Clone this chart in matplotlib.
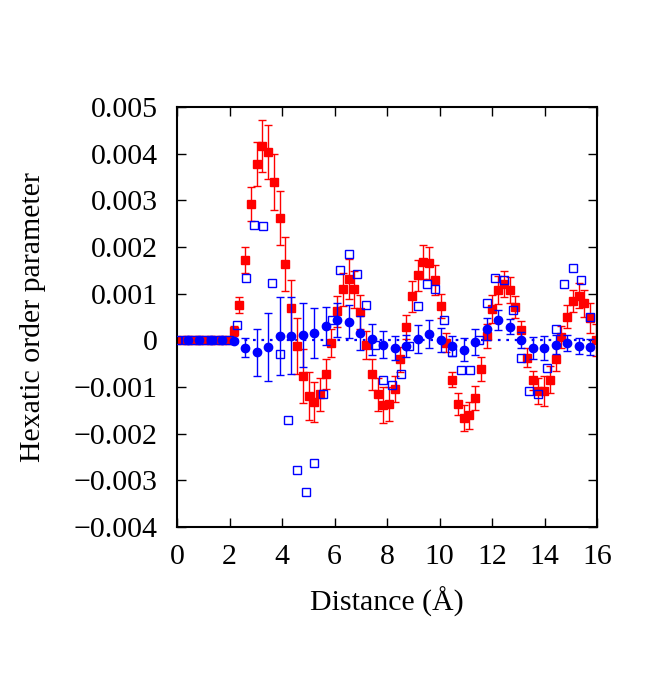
import matplotlib

matplotlib.use("Agg")
import matplotlib.pyplot as plt
from matplotlib.ticker import FuncFormatter

# Filled red squares (with error bars)
red_x = [0.19, 0.41, 0.63, 0.85, 1.06, 1.28, 1.50, 1.72, 1.94,
         2.16, 2.38, 2.60, 2.82, 3.04, 3.25, 3.47, 3.69, 3.91, 4.13,
         4.35, 4.57, 4.79, 5.01, 5.23, 5.45, 5.66, 5.88, 6.10, 6.32,
         6.54, 6.76, 6.98, 7.20, 7.42, 7.64, 7.86, 8.08, 8.29, 8.51,
         8.73, 8.95, 9.17, 9.39, 9.61, 9.83, 10.05, 10.26, 10.48, 10.70,
         10.92, 11.14, 11.36, 11.58, 11.80, 12.01, 12.23, 12.45, 12.67,
         12.89, 13.11, 13.33, 13.55, 13.77, 13.98, 14.20, 14.42, 14.64,
         14.86, 15.08, 15.30, 15.52, 15.73, 15.95]
red_y = [0, 0, 0, 0, 0, 0, 0, 0, 0,
         0.00020, 0.00075, 0.00173, 0.00292, 0.00377, 0.00416, 0.00403,
         0.00339, 0.00262, 0.00163, 0.00070, -0.00013, -0.00077, -0.00119,
         -0.00132, -0.00116, -0.00073, -0.00005, 0.00062, 0.00109, 0.00131,
         0.00109, 0.00061, -0.00009, -0.00073, -0.00116, -0.00138, -0.00137,
         -0.00104, -0.00041, 0.00028, 0.00094, 0.00139, 0.00168, 0.00166,
         0.00130, 0.00073, -0.00005, -0.00084, -0.00137, -0.00166, -0.00161,
         -0.00124, -0.00061, 0.00009, 0.00068, 0.00107, 0.00121, 0.00107,
         0.00071, 0.00023, -0.00037, -0.00086, -0.00108, -0.00109, -0.00084,
         -0.00039, 0.00007, 0.00051, 0.00084, 0.00096, 0.00079, 0.00047,
         0.00000]
red_err = [0, 0, 0, 0, 0, 0, 0, 0, 0,
           0.00010, 0.00017, 0.00028, 0.00037, 0.00047, 0.00056, 0.00058,
           0.00060, 0.00058, 0.00058, 0.00060, 0.00060, 0.00058, 0.00051,
           0.00043, 0.00036, 0.00032, 0.00030, 0.00034, 0.00036, 0.00043,
           0.00039, 0.00036, 0.00030, 0.00034, 0.00036, 0.00039, 0.00036,
           0.00028, 0.00026, 0.00026, 0.00034, 0.00034, 0.00036, 0.00034,
           0.00032, 0.00026, 0.00021, 0.00017, 0.00024, 0.00028, 0.00028,
           0.00026, 0.00026, 0.00026, 0.00030, 0.00030, 0.00028, 0.00028,
           0.00024, 0.00019, 0.00021, 0.00021, 0.00028, 0.00032, 0.00028,
           0.00026, 0.00024, 0.00024, 0.00024, 0.00026, 0.00028, 0.00032,
           0.00034]

# Filled blue circles (with error bars)
blue_x = [0.41, 0.85, 1.28, 1.72, 2.16, 2.60, 3.04, 3.47, 3.91, 4.35,
          4.79, 5.23, 5.66, 6.10, 6.54, 6.98, 7.42, 7.86, 8.29, 8.73,
          9.17, 9.61, 10.05, 10.48, 10.92, 11.36, 11.80, 12.23, 12.67,
          13.11, 13.55, 13.98, 14.42, 14.86, 15.30, 15.73]
blue_y = [0, 0, 0, 0, -0.00002, -0.00016, -0.00026, -0.00014, 0.00009,
          0.00010, 0.00012, 0.00016, 0.00031, 0.00043, 0.00040, 0.00016,
          0.00002, -0.00009, -0.00016, -0.00012, 0.00002, 0.00014, 0.00001,
          -0.00012, -0.00020, -0.00004, 0.00024, 0.00044, 0.00029, 0.00000,
          -0.00016, -0.00016, -0.00009, -0.00006, -0.00012, -0.00014]
blue_err = [0, 0, 0, 0, 0.00004, 0.00020, 0.00051, 0.00073, 0.00083,
            0.00083, 0.00069, 0.00054, 0.00041, 0.00036, 0.00036, 0.00036,
            0.00034, 0.00028, 0.00026, 0.00024, 0.00030, 0.00030, 0.00026,
            0.00021, 0.00024, 0.00028, 0.00024, 0.00021, 0.00016, 0.00017,
            0.00024, 0.00026, 0.00021, 0.00017, 0.00017, 0.00017]

# Open blue squares
open_x = [0.00, 0.33, 0.66, 0.98, 1.31, 1.64, 1.97, 2.29, 2.63, 2.95,
          3.28, 3.61, 3.93, 4.23, 4.58, 4.90, 5.23, 5.57, 5.92, 6.21,
          6.56, 6.86, 7.21, 7.53, 7.85, 8.19, 8.53, 8.85, 9.18, 9.51,
          9.83, 10.17, 10.49, 10.83, 11.15, 11.52, 11.81, 12.13, 12.45,
          12.79, 13.12, 13.42, 13.74, 14.11, 14.43, 14.74, 15.09, 15.40,
          15.73]
open_y = [0, 0, 0, 0, 0, 0, 0, 0.00032, 0.00133, 0.00247,
          0.00246, 0.00122, -0.00029, -0.00171, -0.00277, -0.00326,
          -0.00262, -0.00116, 0.00043, 0.00151, 0.00184, 0.00143, 0.00075,
          -0.00009, -0.00084, -0.00095, -0.00073, -0.00012, 0.00073,
          0.00121, 0.00111, 0.00043, -0.00025, -0.00064, -0.00063, 0.00000,
          0.00079, 0.00134, 0.00129, 0.00066, -0.00037, -0.00108, -0.00114,
          -0.00059, 0.00025, 0.00120, 0.00155, 0.00130, 0.00049]

x_ticks = [0, 2, 4, 6, 8, 10, 12, 14, 16]
y_ticks = [-0.004, -0.003, -0.002, -0.001, 0, 0.001, 0.002, 0.003, 0.004, 0.005]

plt.rcParams["font.family"] = ["Liberation Serif", "DejaVu Serif"]
plt.rcParams["font.size"] = 21.5

fig = plt.figure(figsize=(6.64, 6.92), dpi=100)
ax = fig.add_axes([0.2666, 0.2384, 0.6325, 0.607])

red = (1.0, 0.0, 0.0)
blue = (0.0, 0.0, 1.0)

# zero line
ax.plot([0, 16], [0, 0], color=blue, lw=1.6, dashes=(1.2, 2.6), zorder=1)

ax.errorbar(red_x, red_y, yerr=red_err, fmt="s", color=red, ms=5.8,
            mec=red, ecolor=red, elinewidth=1.0, capsize=2.8, capthick=1.0,
            zorder=2)
ax.plot(open_x, open_y, "s", ms=5.8, mfc="none", mec=blue, mew=1.0, zorder=3)
ax.errorbar(blue_x, blue_y, yerr=blue_err, fmt="o", color=blue, ms=6.0,
            mec=blue, ecolor=blue, elinewidth=1.0, capsize=2.8, capthick=1.0,
            zorder=4)

ax.set_xlim(0, 16)
ax.set_ylim(-0.004, 0.005)
ax.set_xticks(x_ticks)
ax.set_yticks(y_ticks)


def fmt_y(v, pos):
    if abs(v) < 1e-12:
        return "0"
    return f"{v:.3f}".replace("-", "\u2212")


ax.yaxis.set_major_formatter(FuncFormatter(fmt_y))
ax.tick_params(direction="in", length=6.5, width=1.0, top=True, right=True)
ax.tick_params(axis="y", pad=14)
ax.tick_params(axis="x", pad=12)
for s in ax.spines.values():
    s.set_linewidth(1.5)

ax.set_xlabel("Distance (\u00c5)", labelpad=12)
ax.set_ylabel("Hexatic order parameter", labelpad=20)

fig.savefig("out.png", dpi=100)
